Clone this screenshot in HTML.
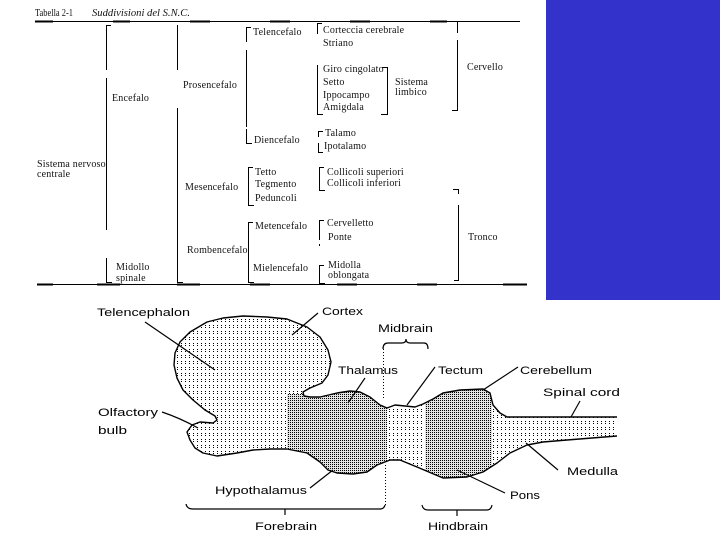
<!DOCTYPE html>
<html><head><meta charset="utf-8"><style>
html,body{margin:0;padding:0;background:#fff;}
body{width:720px;height:540px;overflow:hidden;}
svg{display:block;}
.t{font-family:"Liberation Serif",serif;font-size:10px;fill:#111;letter-spacing:0.2px;}
.ti{font-family:"Liberation Serif",serif;font-size:10px;font-style:italic;fill:#111;}
.s{font-family:"Liberation Sans",sans-serif;font-size:11px;fill:#000;}
</style></head><body>
<svg width="720" height="540" viewBox="0 0 720 540" xmlns="http://www.w3.org/2000/svg">
<defs>
<pattern id="sp" x="0" y="0" width="4" height="6" patternUnits="userSpaceOnUse">
<rect width="4" height="6" fill="#fff"/>
<rect x="1" y="1" width="1" height="1" fill="#000"/>
<rect x="1" y="3" width="1" height="1" fill="#000"/>
</pattern>
<pattern id="dn" x="0" y="0" width="2" height="2" patternUnits="userSpaceOnUse">
<rect width="2" height="2" fill="#e2e2e2"/>
<rect x="0" y="0" width="1" height="1" fill="#000"/>
</pattern>
<clipPath id="brain">
<path d="M617,436 L567,440 L543,442 L527,445 L510,453 L497,463 L483,472 L467,477 L443,478 L417,467 L400,460 L390,460 L377,465 L367,472 L353,474 L337,473 L328,470 L320,462 L307,453 L287,449 L270,449 L253,450 L237,453 L217,456 L203,453 L195,448 L190,440 L187,432 L192,425 L200,422 L213,423 L217,420 L215,416 L205,410 L193,400 L183,390 L177,378 L174,365 L175,353 L180,342 L190,332 L207,322 L223,318 L243,316 L267,317 L287,319 L307,327 L320,337 L328,350 L331,362 L328,375 L322,383 L310,388 L303,392 L304,396 L310,397 L320,397 L337,393 L350,391 L360,392 L370,397 L380,405 L387,408 L395,405 L405,406 L415,407 L423,404 L433,399 L443,393 L460,390 L483,389 L490,393 L493,405 L500,413 L507,417 L617,417 Z"/>
</clipPath>
</defs>

<!-- blue block -->
<rect x="546" y="0" width="174" height="300" fill="#3333cc"/>

<!-- ===== Table ===== -->
<text class="ti" x="35" y="16" style="font-style:normal" textLength="38" lengthAdjust="spacingAndGlyphs">Tabella 2-1</text>
<text class="ti" x="92" y="16" textLength="98" lengthAdjust="spacingAndGlyphs">Suddivisioni del S.N.C.</text>

<g stroke="#000" fill="none" shape-rendering="crispEdges">
<!-- top rule -->
<path d="M35,21.5 H520" stroke-width="1"/>
<path d="M35,21.5 H53 M113,21.5 H130 M190,21.5 H210 M270,21.5 H290 M350,21.5 H370 M430,21.5 H447" stroke-width="2"/>
<!-- bottom rule -->
<path d="M37,284.5 H527" stroke-width="1"/>
<path d="M37,284.5 H53 M97,284.5 H120 M177,284.5 H200 M250,284.5 H270 M337,284.5 H357 M417,284.5 H437 M503,284.5 H527" stroke-width="2"/>

<g stroke-width="1">
<path d="M106.5,25 V70 M106,25.5 H111 M106.5,78 V230 M106.5,258 V282.5 H112"/>
<path d="M177.5,25 V70 M177.5,108 V282.5 H183"/>
<path d="M246.5,27 V42 M246,27.5 H251 M246.5,50 V127 M246.5,129 V143.5 H252"/>
<path d="M253,167.5 H248.5 V205.5 H254"/>
<path d="M253,222.5 H248.5 V282.5 H254"/>
<path d="M322,23.5 H317.5 V34 M317.5,65 V114.5 H323"/>
<path d="M382,67.5 H387.5 V114.5 H381"/>
<path d="M452,21.5 H457.5 V33 M457.5,40 V110.5 H452"/>
<path d="M323,131.5 H318.5 V137 M318.5,143 V152.5 H323"/>
<path d="M324,167.5 H319.5 V190.5 H325"/>
<path d="M324,220.5 H319.5 V240 M319.5,244 V246"/>
<path d="M324,265.5 H319.5 V283.5 H325"/>
<path d="M453,189.5 H458.5 V194 M458.5,205 V280.5 H454"/>
</g>
</g>

<text class="t" x="112" y="101">Encefalo</text>
<text class="t" x="183" y="88">Prosencefalo</text>
<text class="t" x="253" y="35">Telencefalo</text>
<text class="t" x="254" y="143">Diencefalo</text>
<text class="t" x="323" y="33">Corteccia cerebrale</text>
<text class="t" x="323" y="46">Striano</text>
<text class="t" x="323" y="72">Giro cingolato</text>
<text class="t" x="323" y="85">Setto</text>
<text class="t" x="323" y="98">Ippocampo</text>
<text class="t" x="323" y="110">Amigdala</text>
<text class="t" x="395" y="85">Sistema</text>
<text class="t" x="395" y="95">limbico</text>
<text class="t" x="467" y="70">Cervello</text>
<text class="t" x="325" y="136">Talamo</text>
<text class="t" x="324" y="149">Ipotalamo</text>
<text class="t" x="37" y="167">Sistema nervoso</text>
<text class="t" x="37" y="177">centrale</text>
<text class="t" x="185" y="190">Mesencefalo</text>
<text class="t" x="187" y="253">Rombencefalo</text>
<text class="t" x="255" y="175">Tetto</text>
<text class="t" x="255" y="187">Tegmento</text>
<text class="t" x="255" y="201">Peduncoli</text>
<text class="t" x="327" y="175">Collicoli superiori</text>
<text class="t" x="327" y="186">Collicoli inferiori</text>
<text class="t" x="255" y="229">Metencefalo</text>
<text class="t" x="253" y="271">Mielencefalo</text>
<text class="t" x="327" y="226">Cervelletto</text>
<text class="t" x="328" y="240">Ponte</text>
<text class="t" x="328" y="268">Midolla</text>
<text class="t" x="328" y="278">oblongata</text>
<text class="t" x="468" y="240">Tronco</text>
<text class="t" x="116" y="270">Midollo</text>
<text class="t" x="116" y="281">spinale</text>

<!-- ===== Brain diagram ===== -->
<g clip-path="url(#brain)" shape-rendering="crispEdges">
<rect x="165" y="305" width="460" height="180" fill="url(#sp)"/>
<rect x="287" y="394" width="48" height="90" fill="url(#dn)"/>
<rect x="335" y="385" width="52" height="100" fill="url(#dn)"/>
<rect x="425" y="380" width="67" height="105" fill="url(#dn)"/>
</g>
<path d="M617,436 L567,440 L543,442 L527,445 L510,453 L497,463 L483,472 L467,477 L443,478 L417,467 L400,460 L390,460 L377,465 L367,472 L353,474 L337,473 L328,470 L320,462 L307,453 L287,449 L270,449 L253,450 L237,453 L217,456 L203,453 L195,448 L190,440 L187,432 L192,425 L200,422 L213,423 L217,420 L215,416 L205,410 L193,400 L183,390 L177,378 L174,365 L175,353 L180,342 L190,332 L207,322 L223,318 L243,316 L267,317 L287,319 L307,327 L320,337 L328,350 L331,362 L328,375 L322,383 L310,388 L303,392 L304,396 L310,397 L320,397 L337,393 L350,391 L360,392 L370,397 L380,405 L387,408 L395,405 L405,406 L415,407 L423,404 L433,399 L443,393 L460,390 L483,389 L490,393 L493,405 L500,413 L507,417 L617,417" fill="none" stroke="#000" stroke-width="1.4" stroke-linejoin="round"/>

<!-- leader lines -->
<g stroke="#000" stroke-width="1.2" fill="none">
<path d="M145,322 L215,370"/>
<path d="M318,313 L292,335"/>
<path d="M162,412 Q180,418 198,428"/>
<path d="M365,378 L348,403"/>
<path d="M435,367 L407,405"/>
<path d="M518,367 L483,390"/>
<path d="M580,401 L571,417"/>
<path d="M558,470 L526,443"/>
<path d="M505,493 L457,470"/>
<path d="M310,488 L333,470"/>
<path d="M383,349 Q383,343 388,343 L402,343 Q406,343 406,339 Q406,343 410,343 L424,343 Q428,343 428,349"/>
<path d="M186,504 Q187,509 193,509 L380,509 Q384,509 385,505"/>
<path d="M285,509 V515"/>
<path d="M422,505 Q423,510 428,510 L487,510 Q491,510 492,505"/>
<path d="M457,510 V516"/>
</g>
<g stroke="#000" stroke-width="1" fill="none" stroke-dasharray="1,2">
<path d="M383.5,349 V400"/>
<path d="M385.5,465 V505"/>
</g>

<text class="s" x="97" y="316" textLength="93" lengthAdjust="spacingAndGlyphs">Telencephalon</text>
<text class="s" x="322" y="315" textLength="41" lengthAdjust="spacingAndGlyphs">Cortex</text>
<text class="s" x="98" y="416" textLength="60" lengthAdjust="spacingAndGlyphs">Olfactory</text>
<text class="s" x="98" y="434" textLength="29" lengthAdjust="spacingAndGlyphs">bulb</text>
<text class="s" x="378" y="332" textLength="55" lengthAdjust="spacingAndGlyphs">Midbrain</text>
<text class="s" x="338" y="374" textLength="60" lengthAdjust="spacingAndGlyphs">Thalamus</text>
<text class="s" x="438" y="374" textLength="45" lengthAdjust="spacingAndGlyphs">Tectum</text>
<text class="s" x="520" y="374" textLength="72" lengthAdjust="spacingAndGlyphs">Cerebellum</text>
<text class="s" x="543" y="396" textLength="77" lengthAdjust="spacingAndGlyphs">Spinal cord</text>
<text class="s" x="567" y="475" textLength="51" lengthAdjust="spacingAndGlyphs">Medulla</text>
<text class="s" x="510" y="499" textLength="30" lengthAdjust="spacingAndGlyphs">Pons</text>
<text class="s" x="215" y="494" textLength="92" lengthAdjust="spacingAndGlyphs">Hypothalamus</text>
<text class="s" x="255" y="530" textLength="62" lengthAdjust="spacingAndGlyphs">Forebrain</text>
<text class="s" x="428" y="530" textLength="60" lengthAdjust="spacingAndGlyphs">Hindbrain</text>
</svg>
</body></html>
